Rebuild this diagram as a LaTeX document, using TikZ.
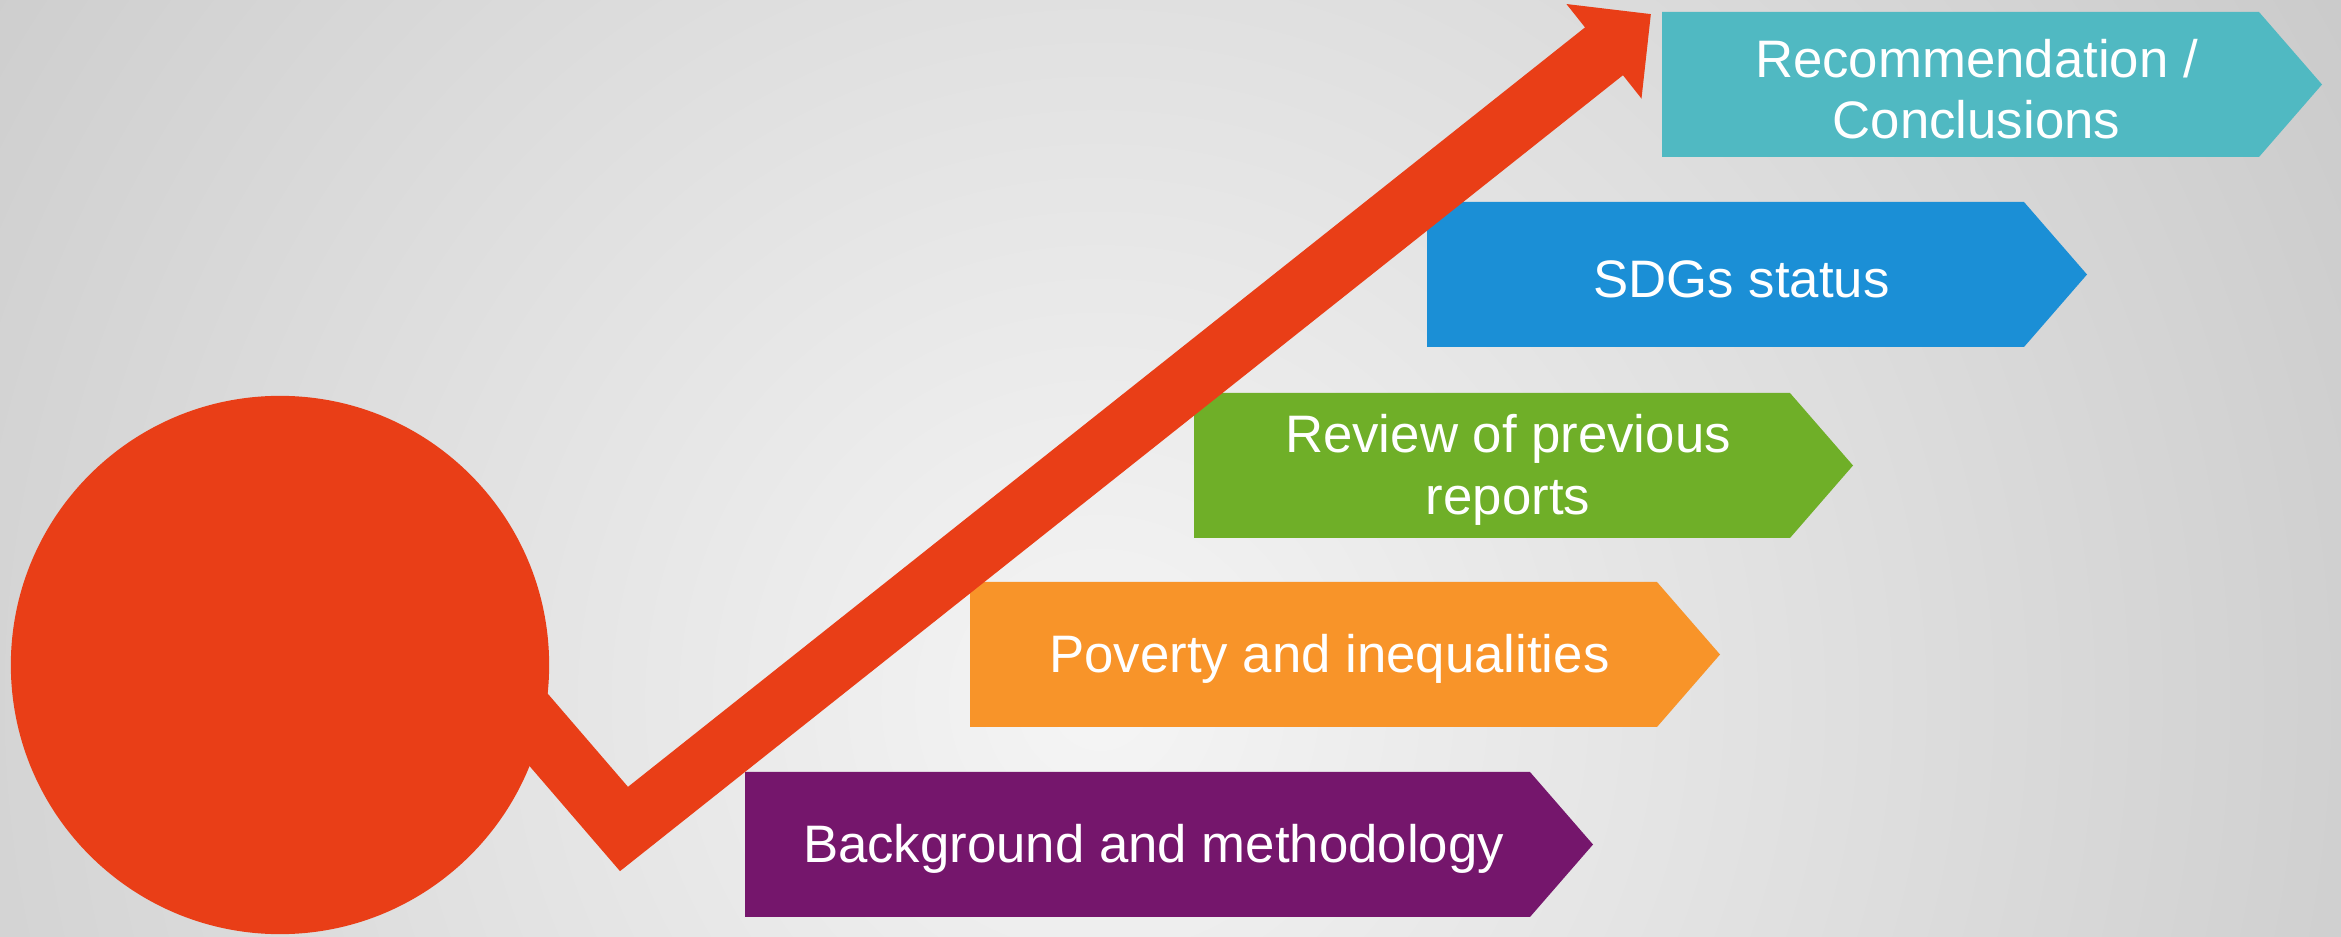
\documentclass[tikz,border=0pt]{standalone}
\usepackage{fontspec}
\setmainfont{Liberation Sans}
\usepackage{tikz}
\usetikzlibrary{arrows.meta}

\definecolor{arrowred}{RGB}{233,62,23}
\definecolor{stagepurple}{RGB}{117,22,108}
\definecolor{stageorange}{RGB}{248,148,41}
\definecolor{stagegreen}{RGB}{111,175,40}
\definecolor{stageblue}{RGB}{27,143,214}
\definecolor{stageteal}{RGB}{80,185,194}
\definecolor{bginner}{RGB}{245,245,245}
\definecolor{bgouter}{RGB}{202,202,202}

\tikzset{
  stagetext/.style={text=white,align=center,inner sep=0pt,
    font=\fontsize{15}{17.5}\selectfont},
  hubdot/.style={circle,fill=arrowred,inner sep=0pt,minimum size=5.38cm},
}

\begin{document}
\begin{tikzpicture}[x=0.01cm,y=-0.01cm]
% background
\begin{scope}
\clip (0,0) rectangle (2341,937);
\shade[inner color=bginner,outer color=bgouter] (-350,-750) rectangle (2550,2150);
\end{scope}
\useasboundingbox (0,0) rectangle (2341,937);

% stages, bottom to top
\foreach \n/\lx/\ty/\w/\col/\txt in {
  bgm/745/772/785/stagepurple/{Background and methodology},
  pov/970/582/687/stageorange/{Poverty and inequalities},
  rev/1194/393/596/stagegreen/{Review of previous\\reports},
  sdg/1427/202/597/stageblue/{SDGs status},
  rec/1662/12/597/stageteal/{Recommendation /\\Conclusions}}
{
  \fill[\col] (\lx,\ty) -- ++(\w,0) -- ++(63,72.5) -- ++(-63,72.5) -- ++(-\w,0) -- cycle;
  \node[stagetext] (\n) at (\lx+\w/2+16,\ty+77) {\txt};
}

% circle and rising arrow
\node[hubdot] (hub) at (280,665) {};
\coordinate (start) at (500,685);
\coordinate (bend) at (624,829);
\coordinate (tip) at (1651,14);
\draw[arrowred,line width=0.61cm,line join=miter,
  -{Triangle[length=0.6cm,width=1.17cm]}] (start) -- (bend) -- (tip);
\end{tikzpicture}
\end{document}
